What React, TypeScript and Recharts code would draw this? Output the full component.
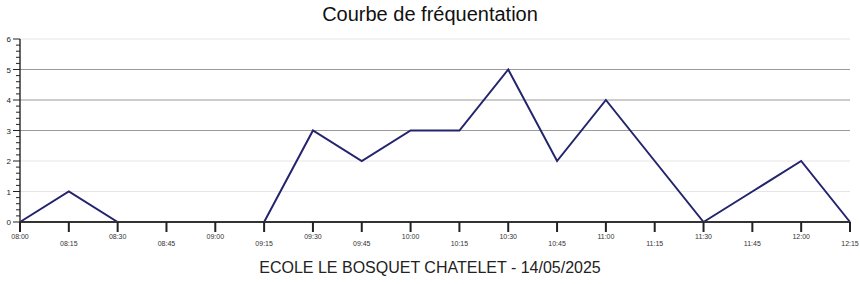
import React from "react";
import { LineChart, Line, XAxis, YAxis, ReferenceLine, Customized } from "recharts";

const times = [
  "08:00", "08:15", "08:30", "08:45", "09:00", "09:15", "09:30", "09:45", "10:00",
  "10:15", "10:30", "10:45", "11:00", "11:15", "11:30", "11:45", "12:00", "12:15",
];
const visitors = [0, 1, 0, 0, 0, 0, 3, 2, 3, 3, 5, 2, 4, 2, 0, 1, 2, 0];
const gridValues = [1, 2, 3, 4, 5, 6];

const data = times.map((t, i) => ({ time: t, value: visitors[i] }));

// minor ticks every 0.2 on the left axis
const yTicks: number[] = [];
for (let i = 0; i <= 30; i++) yTicks.push(Math.round(i * 2) / 10);

const FONT = "'Liberation Sans', Arial, Helvetica, sans-serif";

const YTick = (props: any) => {
  const { x, y, payload } = props;
  const v = payload.value;
  const major = Math.abs(v - Math.round(v)) < 0.001;
  return (
    <g>
      <rect x={major ? x - 7 : x - 4} y={y - 0.5} width={major ? 7 : 4} height={1} fill="#222" />
      {major && (
        <text x={x - 9} y={y} dy={3} textAnchor="end" fontSize={8} fill="#222" fontFamily={FONT}>
          {Math.round(v)}
        </text>
      )}
    </g>
  );
};

const XTick = (props: any) => {
  const { x, y, payload, index } = props;
  const low = index % 2 === 1;
  return (
    <g>
      <rect x={x - 1} y={y} width={2} height={10} fill="#222" />
      <text x={x} y={low ? y + 24 : y + 17} textAnchor="middle" fontSize={7} fill="#333" fontFamily={FONT}>
        {payload.value}
      </text>
    </g>
  );
};

export default function App() {
  return (
    <div style={{ position: "absolute", left: 0, top: 0, width: 860, height: 284, background: "#fff", fontFamily: FONT }}>
      <div style={{ position: "absolute", top: 3, left: 0, width: 860, textAlign: "center", fontSize: 20, color: "#111" }}>
        Courbe de fréquentation
      </div>
      <LineChart width={860} height={284} data={data} margin={{ top: 39, right: 10, left: 0, bottom: 0 }}>
        {gridValues.map((g) => (
          <ReferenceLine
            key={g}
            y={g}
            stroke={g >= 3 && g <= 5 ? "#9a9a9a" : "#e6e6e6"}
            strokeWidth={1}
          />
        ))}
        <XAxis
          dataKey="time"
          interval={0}
          tickLine={false}
          tickSize={0}
          tickMargin={0}
          axisLine={{ stroke: "#333", strokeWidth: 2 }}
          tick={XTick}
          height={62}
        />
        <YAxis
          domain={[0, 6]}
          ticks={yTicks}
          interval={0}
          width={20}
          tickLine={false}
          tickSize={0}
          tickMargin={0}
          axisLine={{ stroke: "#333", strokeWidth: 1.5 }}
          tick={YTick}
        />
        <Line
          type="linear"
          dataKey="value"
          stroke="#24246e"
          strokeWidth={2}
          dot={false}
          activeDot={false}
          isAnimationActive={false}
        />
      </LineChart>
      <div style={{ position: "absolute", top: 259, left: 0, width: 860, textAlign: "center", fontSize: 16, color: "#222" }}>
        ECOLE LE BOSQUET CHATELET - 14/05/2025
      </div>
    </div>
  );
}
